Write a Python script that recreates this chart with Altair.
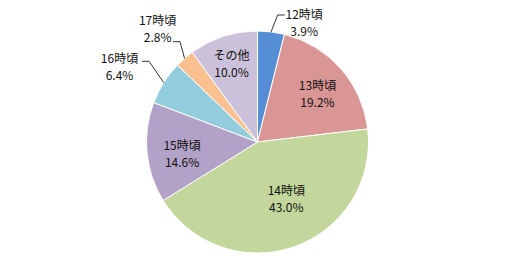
import math
import altair as alt
import pandas as pd

# ---- data ----
categories = ["12時頃", "13時頃", "14時頃", "15時頃", "16時頃", "17時頃", "その他"]
values = [3.9, 19.2, 43.0, 14.6, 6.4, 2.8, 10.0]
colors = ["#558ED5", "#D99694", "#C3D69B", "#B3A2C7", "#93CDDD", "#FAC090", "#CCC1DA"]

# ---- layout (label placement, like Excel's best fit) ----
W, H = 515, 236
R = 111
label_angle_offset = [14.0, 1.6, -8.4, -1.8, -3.2, 0.0, 0.0]   # degrees
label_radius = [130, 78, 62, 76, 158, 152, 84]                 # pixels
leaders = {  # category: (elbow angle offset deg, elbow radius, horizontal dir)
    "12時頃": (2.0, 128.6, 1),
    "16時頃": (4.3, 135.2, -1),
    "17時頃": (3.4, 126.8, -1),
}

total = sum(values)
rows, cum = [], 0.0
mids = []
for i, (c, v) in enumerate(zip(categories, values)):
    mid = (cum + v / 2) / total * 2 * math.pi
    mids.append(mid)
    cum += v
    rows.append({
        "idx": i, "cat": c, "value": v,
        "label": f"{c}\n{v:.1f}%",
        "lab_theta": mid + math.radians(label_angle_offset[i]),
        "lab_r": label_radius[i],
    })
df = pd.DataFrame(rows)

cx, cy = W / 2, H / 2
lrows = []
for c, (eoff, er, hdir) in leaders.items():
    mid = mids[categories.index(c)]
    sx, sy = cx + R * math.sin(mid), cy - R * math.cos(mid)
    ea = mid + math.radians(eoff)
    ex, ey = cx + er * math.sin(ea), cy - er * math.cos(ea)
    for k, (x, y) in enumerate([(sx, sy), (ex, ey), (ex + hdir * 7, ey)]):
        lrows.append({"cat": c, "k": k, "x": x, "y": y})
ldf = pd.DataFrame(lrows)

arcs = alt.Chart(df).mark_arc(outerRadius=R, stroke="white", strokeWidth=1).encode(
    theta=alt.Theta("value:Q", stack=True),
    color=alt.Color("cat:N", scale=alt.Scale(domain=categories, range=colors), legend=None),
    order=alt.Order("idx:Q"),
)

texts = alt.Chart(df).mark_text(
    lineBreak="\n", fontSize=12, lineHeight=17, font="Noto Sans CJK JP",
    color="#111111", align="center", baseline="middle", dy=-6,
).encode(
    theta=alt.Theta("lab_theta:Q", scale=None, stack=False),
    radius=alt.Radius("lab_r:Q", scale=None),
    text="label:N",
)

lines = alt.Chart(ldf).mark_line(color="#333333", strokeWidth=1).encode(
    x=alt.X("x:Q", scale=None),
    y=alt.Y("y:Q", scale=None),
    detail="cat:N",
    order="k:Q",
)

chart = alt.layer(arcs, lines, texts).properties(
    width=W, height=H,
    autosize=alt.AutoSizeParams(type="none"),
    padding={"top": 24, "left": 0, "right": 0, "bottom": 0},
).configure_view(stroke=None)

chart.save("out.html", embed_options={"renderer": "svg", "actions": False})
